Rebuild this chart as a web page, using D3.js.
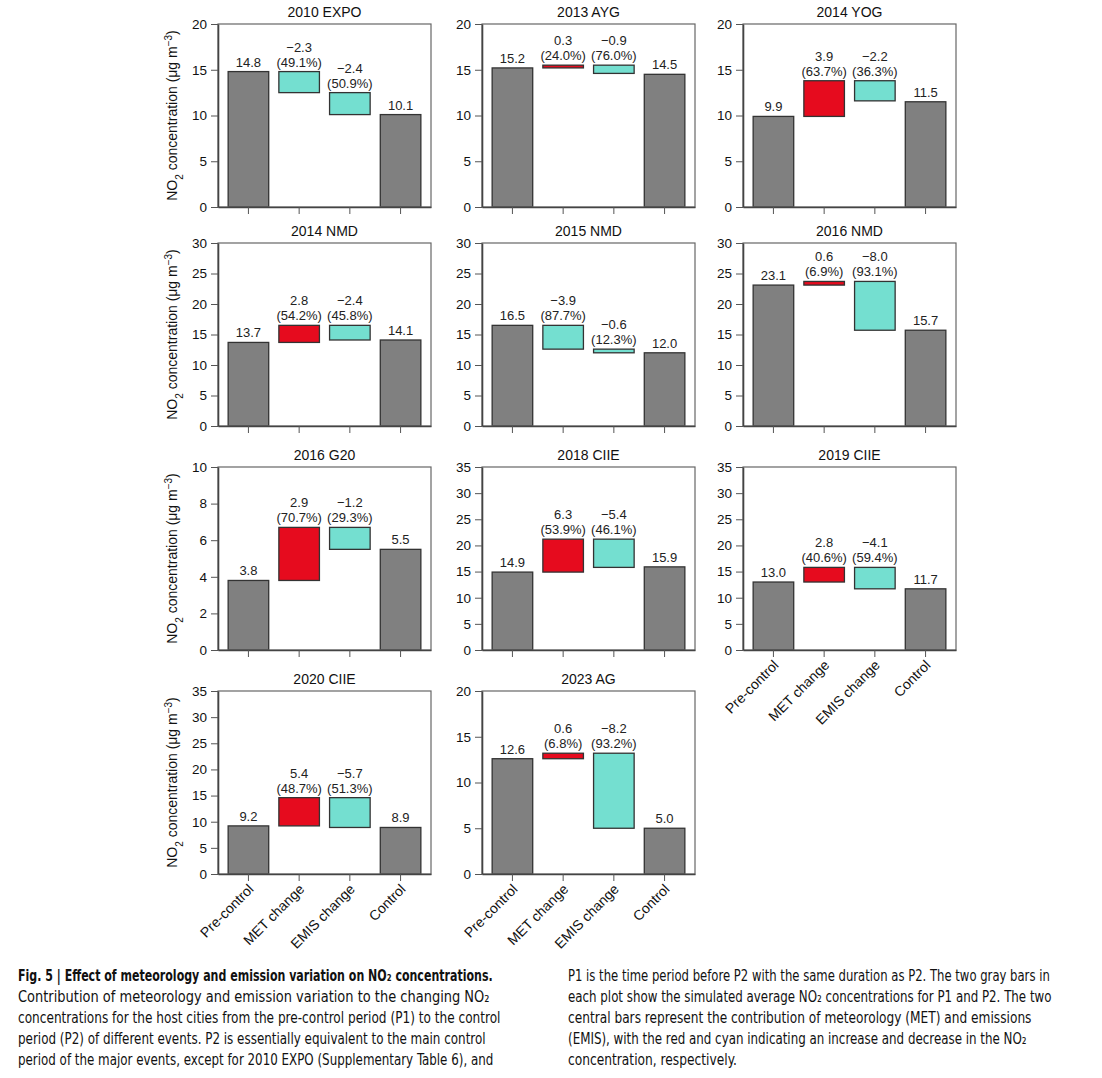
<!DOCTYPE html>
<html>
<head>
<meta charset="utf-8">
<script src="https://cdn.jsdelivr.net/npm/d3@7"></script>
<style>
  body { margin: 0; background: #fff; }
  svg { font-family: "Liberation Sans", Arial, sans-serif; }
  .caption { font-family: "Liberation Sans Narrow", "DejaVu Sans Condensed", "Liberation Sans", sans-serif; font-size: 16px; fill: #111; }
</style>
</head>
<body>
<svg></svg>
<script>
// panel data, one entry per event
let titles = ['2010 EXPO', '2013 AYG', '2014 YOG', '2014 NMD', '2015 NMD', '2016 NMD',
              '2016 G20', '2018 CIIE', '2019 CIIE', '2020 CIIE', '2023 AG']
let preControl = [14.8, 15.2, 9.9, 13.7, 16.5, 23.1, 3.8, 14.9, 13.0, 9.2, 12.6]
let metChange  = [-2.3, 0.3, 3.9, 2.8, -3.9, 0.6, 2.9, 6.3, 2.8, 5.4, 0.6]
let emisChange = [-2.4, -0.9, -2.2, -2.4, -0.6, -8.0, -1.2, -5.4, -4.1, -5.7, -8.2]
let control    = [10.1, 14.5, 11.5, 14.1, 12.0, 15.7, 5.5, 15.9, 11.7, 8.9, 5.0]
let metPct     = [49.1, 24.0, 63.7, 54.2, 87.7, 6.9, 70.7, 53.9, 40.6, 48.7, 6.8]
let emisPct    = [50.9, 76.0, 36.3, 45.8, 12.3, 93.1, 29.3, 46.1, 59.4, 51.3, 93.2]
let yMax       = [20, 20, 20, 30, 30, 30, 10, 35, 35, 35, 20]
let yStep      = [5, 5, 5, 5, 5, 5, 2, 5, 5, 5, 5]
let categories = ['Pre-control', 'MET change', 'EMIS change', 'Control']

// caption lines
let captionTitle = 'Fig. 5 | Effect of meteorology and emission variation on NO\u2082 concentrations.'
let captionLeft = [
  'Contribution of meteorology and emission variation to the changing NO\u2082',
  'concentrations for the host cities from the pre-control period (P1) to the control',
  'period (P2) of different events. P2 is essentially equivalent to the main control',
  'period of the major events, except for 2010 EXPO (Supplementary Table 6), and'
]
let captionRight = [
  'P1 is the time period before P2 with the same duration as P2. The two gray bars in',
  'each plot show the simulated average NO\u2082 concentrations for P1 and P2. The two',
  'central bars represent the contribution of meteorology (MET) and emissions',
  '(EMIS), with the red and cyan indicating an increase and decrease in the NO\u2082',
  'concentration, respectively.'
]

let width = 1102
let height = 1078
let panelW = 213
let panelH = 183
let colLeft = [218, 482, 743]
let rowTop = [24, 243, 467, 691]
let bottomPanels = [8, 9, 10] // panels that carry the category labels

let gray = '#808080'
let red = '#e60b1e'
let cyan = '#74dfd0'

let svg = d3.select('svg')
    .attr('width', width)
    .attr('height', height)

let fmt = (v) => (v < 0 ? '\u2212' : '') + Math.abs(v).toFixed(1)

let drawPanel = (i) => {
    let left = colLeft[i % 3]
    let top = rowTop[Math.floor(i / 3)]
    let g = svg.append('g').attr('transform', 'translate(' + left + ',' + top + ')')

    let x = d3.scaleBand()
        .domain(categories)
        .range([0, panelW])
        .paddingInner(0.2)
        .paddingOuter(0.2)
    let y = d3.scaleLinear()
        .domain([0, yMax[i]])
        .range([panelH, 0])

    // bars: [start, end] per category
    let metEnd = preControl[i] + metChange[i]
    let bars = [
        { cat: categories[0], y0: 0, y1: preControl[i], fill: gray, lab: [fmt(preControl[i])] },
        { cat: categories[1], y0: preControl[i], y1: metEnd, fill: metChange[i] >= 0 ? red : cyan,
          lab: [fmt(metChange[i]), '(' + metPct[i].toFixed(1) + '%)'] },
        { cat: categories[2], y0: metEnd, y1: metEnd + emisChange[i], fill: emisChange[i] >= 0 ? red : cyan,
          lab: [fmt(emisChange[i]), '(' + emisPct[i].toFixed(1) + '%)'] },
        { cat: categories[3], y0: 0, y1: control[i], fill: gray, lab: [fmt(control[i])] }
    ]

    g.selectAll('rect.bar')
        .data(bars)
        .enter()
        .append('rect')
        .attr('class', 'bar')
        .attr('x', (d) => x(d.cat))
        .attr('width', x.bandwidth())
        .attr('y', (d) => y(Math.max(d.y0, d.y1)))
        .attr('height', (d) => Math.abs(y(d.y0) - y(d.y1)))
        .attr('fill', (d) => d.fill)
        .attr('stroke', '#333')
        .attr('stroke-width', 1.3)

    // value labels above each bar
    bars.forEach((d) => {
        let topY = y(Math.max(d.y0, d.y1))
        let n = d.lab.length
        d.lab.forEach((t, k) => {
            g.append('text')
                .attr('x', x(d.cat) + x.bandwidth() / 2)
                .attr('y', topY - 5 - (n - 1 - k) * 15)
                .attr('text-anchor', 'middle')
                .style('font-size', '13px')
                .style('fill', '#222')
                .text(t)
        })
    })

    // frame
    g.append('rect')
        .attr('width', panelW)
        .attr('height', panelH)
        .attr('fill', 'none')
        .attr('stroke', '#666')
        .attr('stroke-width', 1.2)

    let yAxis = d3.axisLeft(y)
        .tickValues(d3.range(0, yMax[i] + 0.001, yStep[i]))
        .tickSize(7)
        .tickSizeOuter(0)
        .tickPadding(4)
    let ya = g.append('g').call(yAxis)
    ya.select('.domain').attr('stroke', '#444').attr('stroke-width', 1.6)
    ya.selectAll('.tick line').attr('stroke', '#555')
    ya.selectAll('.tick text').style('font-size', '13.5px').style('fill', '#111')

    let xAxis = d3.axisBottom(x).tickSize(7).tickSizeOuter(0).tickPadding(6)
    let showLabels = bottomPanels.includes(i)
    if (!showLabels) xAxis.tickFormat('')
    let xa = g.append('g')
        .attr('transform', 'translate(0,' + panelH + ')')
        .call(xAxis)
    xa.select('.domain').attr('stroke', '#444').attr('stroke-width', 1.6)
    xa.selectAll('.tick line').attr('stroke', '#555')
    if (showLabels) {
        xa.selectAll('.tick text')
            .style('font-size', '14px')
            .style('fill', '#111')
            .style('text-anchor', 'end')
            .attr('dy', 0)
            .attr('y', 0)
            .attr('transform', 'translate(6,16) rotate(-45)')
    }

    g.append('text')
        .attr('x', panelW / 2)
        .attr('y', -7)
        .attr('text-anchor', 'middle')
        .style('font-size', '14px')
        .style('fill', '#111')
        .text(titles[i])

    // y label only on the first column
    if (i % 3 === 0) {
        let lab = svg.append('text')
            .attr('transform', 'translate(' + (left - 41) + ',' + (top + panelH / 2) + ') rotate(-90)')
            .attr('text-anchor', 'middle')
            .style('font-size', '14px')
            .style('fill', '#111')
        lab.append('tspan').text('NO')
        lab.append('tspan').attr('baseline-shift', 'sub').style('font-size', '10px').text('2')
        lab.append('tspan').text(' concentration (\u03bcg m')
        lab.append('tspan').attr('baseline-shift', 'super').style('font-size', '10px').text('\u22123')
        lab.append('tspan').text(')')
    }
}

titles.forEach((t, i) => drawPanel(i))

// caption line squeezed horizontally to the measured width of the reference line
let addLine = (str, x, y, len, bold) => {
    let t = svg.append('text')
        .attr('class', 'caption')
        .style('font-weight', bold ? 'bold' : 'normal')
        .text(str)
    let w = t.node().getComputedTextLength()
    t.attr('transform', 'translate(' + x + ',' + y + ') scale(' + (len / w) + ',1)')
}

addLine(captionTitle, 18, 981, 475, true)
let leftEnds = [490, 501, 486, 494]
captionLeft.forEach((s, k) => addLine(s, 18, 1002 + k * 21, leftEnds[k] - 18, false))
let rightEnds = [1050, 1052, 1032, 1027, 737]
captionRight.forEach((s, k) => addLine(s, 568, 981 + k * 21, rightEnds[k] - 568, false))
</script>
</body>
</html>
